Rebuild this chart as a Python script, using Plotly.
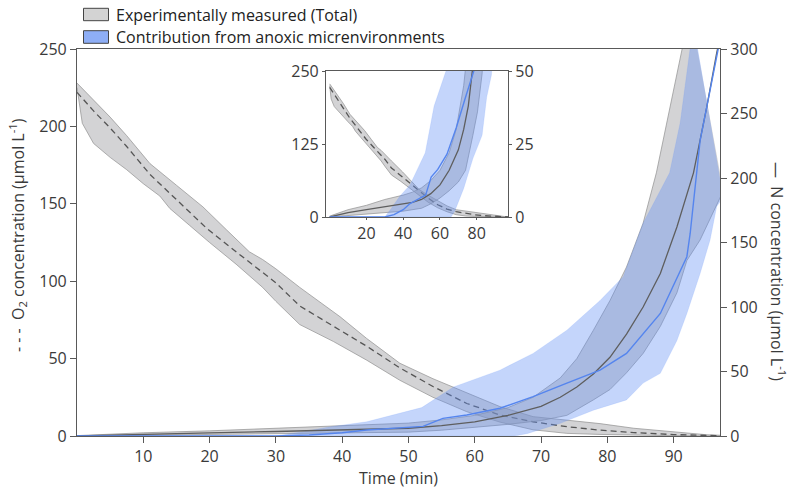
import plotly.graph_objects as go

# ---------------- data ----------------
# O2 (left axis, umol/L) - experimentally measured (total)
t_o2_mean = [0, 2.5, 5, 7.5, 11, 15, 19.6, 24, 28, 30, 33.6, 38.7, 43.7, 48.7, 53.7, 58.8, 63.8, 68.8, 73.9, 78.9, 84, 90, 95, 97]
o2_mean = [222, 210, 199, 187, 169, 153, 134, 119, 106, 99, 84, 71, 58, 44, 32, 21, 13.6, 9.2, 6, 3.8, 2.2, 0.9, 0.3, 0.2]
t_o2_up = [0, 2.5, 5, 7.5, 11, 15, 19, 22.6, 26, 28, 30, 33.6, 39.7, 43.7, 48.7, 53.7, 58.8, 63.8, 68.8, 73.9, 78.9, 84, 90, 95, 97]
o2_up = [228, 217, 206, 194, 176, 162, 148, 133, 119, 114, 108, 96, 77, 63, 47, 37, 28, 19, 12.5, 10, 8, 5, 2.5, 0.8, 0.5]
t_o2_lo = [0, 0.4, 0.8, 2.5, 5, 7.5, 10, 12.5, 14, 17, 20, 24, 28, 30, 33.6, 38.7, 43.7, 48.7, 53.7, 58.8, 63.8, 68.8, 73.9, 78.9, 84, 90, 95, 97]
o2_lo = [225, 212, 202, 189, 180, 172, 163, 155, 147, 136, 125, 111, 96, 87, 72, 61, 49, 36, 25, 15.7, 9, 4, 1.7, 1, 0.5, 0.2, 0, 0]

# N (right axis, umol/L) - experimentally measured (total)
t_n_mean = [0, 10, 20, 30, 40, 45, 50, 55, 60, 65, 70, 72.9, 75.4, 77.9, 80.4, 82.9, 85.4, 88, 90.5, 93, 95, 96.5, 97.5]
n_mean = [0, 1.5, 2.5, 3.5, 4.5, 5, 6, 8, 11, 16, 23, 30, 38, 48, 61, 79, 100, 126, 162, 204, 255, 297, 320]
t_n_up = [0, 10, 20, 30, 40, 45, 50, 55, 60, 65, 68.8, 72.9, 75.4, 77.9, 80.4, 82.9, 85.4, 87.4, 89.4, 91.2, 92.5]
n_up = [0.3, 2.5, 4, 6, 7.5, 8.5, 10, 12.5, 16, 22, 30, 45, 60, 82, 105, 131, 165, 204, 255, 298, 330]
t_n_lo = [0, 20, 40, 50, 55, 60, 65, 70, 73.9, 77.9, 80.4, 82.9, 85.4, 88, 90.5, 92, 94, 97.5]
n_lo = [0, 1, 2, 3, 4.5, 6.5, 9, 12, 16, 28, 36, 49, 64, 85, 111, 136, 152, 190]

# N - contribution from anoxic microenvironments
t_b_mean = [0, 30, 35, 40, 43.7, 48, 52.2, 55.2, 58.8, 63.8, 68.8, 73.9, 78.9, 82.9, 88, 92, 92.5, 94, 96.5, 97.5]
b_mean = [0, 0, 0.8, 2.5, 4.6, 6, 7.5, 13.7, 16.3, 21.5, 30.5, 41, 51, 64, 95, 139, 157, 229, 297, 320]
t_b_up = [0, 30, 33.6, 38, 43.7, 48.7, 52, 56.8, 63.8, 68.8, 73.9, 78.9, 82.4, 85.4, 89.4, 91, 92.5, 93]
b_up = [0, 0, 3, 7, 11, 17.6, 22, 38, 51, 64, 82, 105, 123.5, 165, 204, 243, 298, 320]
t_b_lo = [0, 66, 68, 70, 72.9, 77.9, 82.9, 85.4, 88, 90.5, 92, 94, 95.5, 96.5, 97.5]
b_lo = [0, 0, 2, 5, 9.8, 20, 28, 41, 48.6, 74, 95, 126, 152, 178, 185]

x_ticks = [10, 20, 30, 40, 50, 60, 70, 80, 90]
inset_x_ticks = [20, 40, 60, 80]
legend_labels = ["Experimentally measured (Total)", "Contribution from anoxic micrenvironments"]

# ---------------- styles ----------------
GRAY_FILL = "rgba(150,150,155,0.42)"
GRAY_EDGE = "#8f8f8f"
BLUE_FILL = "rgba(100,145,245,0.38)"
BLUE_LINE = "#5585ee"
DARK = "#555555"
AXIS = "#595959"
FONT = "Open Sans"
TXT = "#3a3a3a"

W, H = 789, 492
L, R, T, B = 77, 720, 49, 436


def px(x):
    return (x - L) / (R - L)


def py(y):
    return (B - y) / (B - T)


fig = go.Figure()


def add_set(xa, ya_o2, ya_n):
    # O2 band
    fig.add_trace(go.Scatter(x=t_o2_lo, y=o2_lo, xaxis=xa, yaxis=ya_o2, mode="lines",
                             line=dict(color=GRAY_EDGE, width=0.7), hoverinfo="skip", showlegend=False))
    fig.add_trace(go.Scatter(x=t_o2_up, y=o2_up, xaxis=xa, yaxis=ya_o2, mode="lines", fill="tonexty",
                             fillcolor=GRAY_FILL, line=dict(color=GRAY_EDGE, width=0.7),
                             hoverinfo="skip", showlegend=False))
    fig.add_trace(go.Scatter(x=t_o2_mean, y=o2_mean, xaxis=xa, yaxis=ya_o2, mode="lines",
                             line=dict(color=DARK, width=1.3, dash="6px,4px"), showlegend=False))
    # N gray band
    fig.add_trace(go.Scatter(x=t_n_lo, y=n_lo, xaxis=xa, yaxis=ya_n, mode="lines",
                             line=dict(color=GRAY_EDGE, width=0.7), hoverinfo="skip", showlegend=False))
    fig.add_trace(go.Scatter(x=t_n_up, y=n_up, xaxis=xa, yaxis=ya_n, mode="lines", fill="tonexty",
                             fillcolor=GRAY_FILL, line=dict(color=GRAY_EDGE, width=0.7),
                             hoverinfo="skip", showlegend=False))
    # blue band
    fig.add_trace(go.Scatter(x=t_b_lo, y=b_lo, xaxis=xa, yaxis=ya_n, mode="lines",
                             line=dict(color="rgba(100,145,245,0.3)", width=0.5), hoverinfo="skip", showlegend=False))
    fig.add_trace(go.Scatter(x=t_b_up, y=b_up, xaxis=xa, yaxis=ya_n, mode="lines", fill="tonexty",
                             fillcolor=BLUE_FILL, line=dict(color="rgba(100,145,245,0.3)", width=0.5),
                             hoverinfo="skip", showlegend=False))
    # means
    fig.add_trace(go.Scatter(x=t_n_mean, y=n_mean, xaxis=xa, yaxis=ya_n, mode="lines",
                             line=dict(color="#5e5e5e", width=1.3), showlegend=False))
    fig.add_trace(go.Scatter(x=t_b_mean, y=b_mean, xaxis=xa, yaxis=ya_n, mode="lines",
                             line=dict(color=BLUE_LINE, width=1.4), showlegend=False))


add_set("x", "y", "y2")
add_set("x2", "y3", "y4")

tickfont = dict(family=FONT, size=16, color=TXT)
common = dict(showgrid=False, zeroline=False, showline=True, linecolor=AXIS, linewidth=1.2,
              ticks="outside", tickcolor=AXIS, tickfont=tickfont, automargin=False)

inset_x0, inset_x1 = px(326), px(508)
inset_y0, inset_y1 = py(217), py(71)

fig.update_layout(
    width=W, height=H,
    margin=dict(l=L, r=W - R, t=T, b=H - B),
    paper_bgcolor="white", plot_bgcolor="white",
    showlegend=False,
    font=dict(family=FONT, color=TXT),
    xaxis=dict(domain=[0, 1], range=[0, 97], tickvals=x_ticks, ticklen=6, mirror=True, anchor="y",
               title=dict(text="Time (min)", font=dict(family=FONT, size=16, color=TXT), standoff=4),
               **common),
    yaxis=dict(domain=[0, 1], range=[0, 250], tickvals=[0, 50, 100, 150, 200, 250], ticklen=6,
               anchor="x", **common),
    yaxis2=dict(overlaying="y", side="right", range=[0, 300], tickvals=[0, 50, 100, 150, 200, 250, 300],
                ticklen=6, anchor="x", **common),
    xaxis2=dict(domain=[inset_x0, inset_x1], range=[-2, 97], tickvals=inset_x_ticks, ticklen=2,
                mirror=True, anchor="y3", **common),
    yaxis3=dict(domain=[inset_y0, inset_y1], range=[0, 250], tickvals=[0, 125, 250], ticklen=3,
                anchor="x2", **common),
    yaxis4=dict(overlaying="y3", side="right", range=[0, 50], tickvals=[0, 25, 50], ticklen=3,
                anchor="x2", **common),
)

# axis titles (rotated)
fig.add_annotation(xref="paper", yref="paper", x=px(17), y=py(235), showarrow=False, textangle=-90,
                   text="- - -  O<sub>2</sub> concentration (µmol L<sup>-1</sup>)",
                   font=dict(family=FONT, size=16, color=TXT), xanchor="center", yanchor="middle")
fig.add_annotation(xref="paper", yref="paper", x=px(778), y=py(271), showarrow=False, textangle=90,
                   text="—  N concentration (µmol L<sup>-1</sup>)",
                   font=dict(family=FONT, size=16, color=TXT), xanchor="center", yanchor="middle")

# legend (manual)
legend_fills = ["#d3d3d3", "#8eaef6"]
legend_rows = [(8.3, 20.7), (30.7, 43.3)]
for lab, fc, (y0, y1) in zip(legend_labels, legend_fills, legend_rows):
    fig.add_shape(type="rect", xref="paper", yref="paper", x0=px(83.5), x1=px(108.5), y0=py(y1), y1=py(y0),
                  fillcolor=fc, line=dict(color="#444444", width=1))
    fig.add_annotation(xref="paper", yref="paper", x=px(114), y=py((y0 + y1) / 2), text=lab, showarrow=False,
                       xanchor="left", yanchor="middle", font=dict(family=FONT, size=16, color="#222222"))

fig.write_html("out.html", config={"displayModeBar": False},
               post_script="document.body.style.margin='0px';")
